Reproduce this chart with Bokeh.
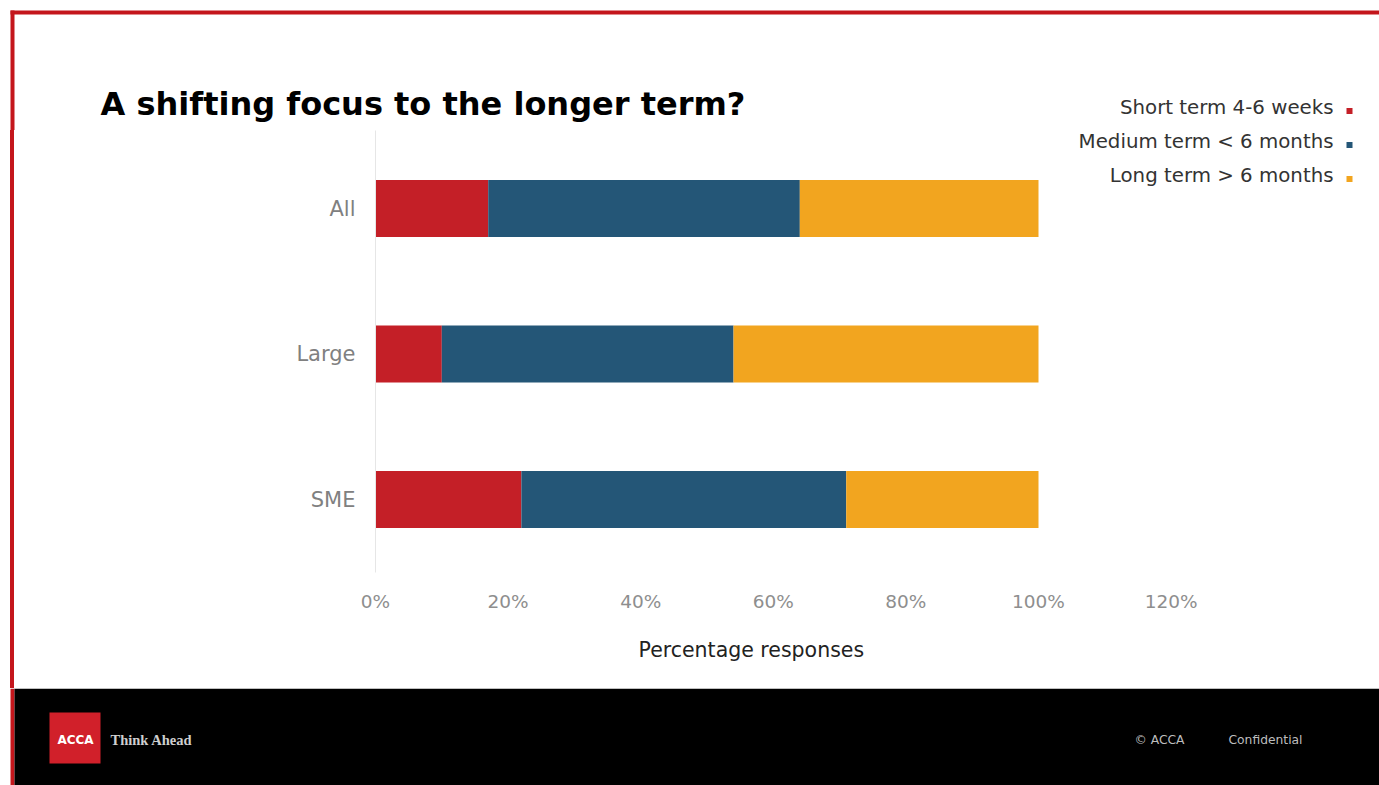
from bokeh.plotting import figure
from bokeh.models import (ColumnDataSource, Range1d, FixedTicker, Spacer, Title,
                          NumeralTickFormatter, Label, BoxAnnotation)
from bokeh.layouts import column, row
from bokeh.core.properties import value
from bokeh.embed import file_html
from bokeh.resources import INLINE

# ---- data ----
categories = ["All", "Large", "SME"]
short_term = [17, 10, 22]
medium_term = [47, 44, 49]
long_term = [36, 46, 29]
series_names = ["Short term 4-6 weeks", "Medium term < 6 months", "Long term > 6 months"]
series_colors = ["#C41F27", "#245677", "#F2A51F"]
x_ticks = [0, 0.2, 0.4, 0.6, 0.8, 1.0, 1.2]

title_text = "A shifting focus to the longer term?"
x_title = "Percentage responses"

RED = "#C4161C"
FONT = "DejaVu Sans"

# ---- page geometry (pixels) ----
PW, PH = 1379, 785
TOP_H = 130          # header strip
FOOT_Y = 688         # footer starts
STRIP_W = 200
X0_PX, X1_PX = 375, 1038   # where 0% and 100% fall
FRAME_BOTTOM = 572
ROW_TOP_PX, ROW_BOT_PX = 208, 499   # centres of first/last category
LEG_X, LEG_Y0, LEG_DY = 1333, 106.5, 34
LEG_FONT = "19.8px"


def canvas(w, h, y_top, x_left=0):
    f = figure(width=w, height=h, output_backend="svg", toolbar_location=None,
               x_range=Range1d(x_left, x_left + w), y_range=Range1d(y_top + h, y_top),
               x_axis_type=None, y_axis_type=None, min_border=0)
    f.outline_line_color = None
    f.grid.visible = False
    f.background_fill_color = "white"
    f.border_fill_color = "white"
    return f


# ---- header ----
top = canvas(PW, TOP_H, 0)
top.quad(left=[10, 10], right=[PW, 14], top=[10, 10], bottom=[14, TOP_H + 1],
         color=RED, line_color=None)
top.text(x=[100], y=[103], text=[title_text], text_font=value(FONT),
         text_font_size="32px", text_font_style="bold", text_color="#000000",
         text_baseline="middle")
top.text(x=[LEG_X], y=[LEG_Y0], text=[series_names[0]], text_font=value(FONT),
         text_font_size=LEG_FONT, text_color="#333333", text_align="right",
         text_baseline="middle")
top.quad(left=[1346], right=[1352], top=[LEG_Y0 + 1], bottom=[LEG_Y0 + 7],
         color=series_colors[0], line_color=None)

# ---- left red line ----
mid_h = FOOT_Y - TOP_H
redline = Spacer(width=4, height=mid_h, styles={"background-color": RED})

# ---- chart ----
chart_w = PW - STRIP_W
frame_left = X0_PX - STRIP_W
frame_h = FRAME_BOTTOM - TOP_H
px_per_unit_x = X1_PX - X0_PX
n = len(categories)
px_per_row = (ROW_BOT_PX - ROW_TOP_PX) / (n - 1)
y_hi = n + (ROW_TOP_PX - TOP_H) / px_per_row
y_lo = 1 - (FRAME_BOTTOM - ROW_BOT_PX) / px_per_row

ypos = [n - i for i in range(n)]
src = ColumnDataSource(dict(
    y=ypos,
    s=[v / 100 for v in short_term],
    m=[v / 100 for v in medium_term],
    l=[v / 100 for v in long_term],
))

p = figure(width=chart_w, height=mid_h, output_backend="svg", toolbar_location=None,
           x_range=Range1d(0, (PW - X0_PX) / px_per_unit_x),
           y_range=Range1d(y_lo, y_hi),
           min_border_left=frame_left, min_border_top=0, min_border_right=0,
           min_border_bottom=mid_h - frame_h)
p.outline_line_color = None
p.xgrid.visible = False
p.ygrid.visible = False
p.background_fill_color = "white"
p.border_fill_color = "white"

p.hbar_stack(["s", "m", "l"], y="y", height=57 / px_per_row, color=series_colors,
             source=src, line_color=None)

xa = p.xaxis[0]
xa.ticker = FixedTicker(ticks=x_ticks)
xa.formatter = NumeralTickFormatter(format="0%")
xa.axis_line_color = None
xa.major_tick_line_color = None
xa.minor_tick_line_color = None
xa.major_tick_out = 0
xa.major_label_standoff = 18
xa.major_label_text_font = FONT
xa.major_label_text_font_size = "18.5px"
xa.major_label_text_color = "#8e8e8e"

# axis title, placed under the bars as in the original
p.add_layout(Title(text=x_title, align="left", offset=638 - X0_PX,
                   text_font=FONT, text_font_size="20.5px", text_font_style="normal",
                   text_color="#222222", standoff=42), "below")

ya = p.yaxis[0]
ya.ticker = FixedTicker(ticks=ypos)
ya.major_label_overrides = {y: c for y, c in zip(ypos, categories)}
ya.axis_line_color = "#e6e6e6"
ya.major_tick_line_color = None
ya.minor_tick_line_color = None
ya.major_tick_out = 0
ya.major_label_standoff = 20
ya.major_label_text_font = FONT
ya.major_label_text_font_size = "21px"
ya.major_label_text_color = "#808080"

# legend rows that fall inside the chart area (screen units relative to frame)
for i in range(1, 3):
    yy = LEG_Y0 + i * LEG_DY
    p.add_layout(Label(x=LEG_X - X0_PX, y=FRAME_BOTTOM - yy, x_units="screen",
                       y_units="screen", text=series_names[i], text_font=FONT,
                       text_font_size=LEG_FONT, text_color="#333333",
                       text_align="right", text_baseline="middle"))
    p.add_layout(BoxAnnotation(left=1346 - X0_PX, right=1352 - X0_PX,
                               top=FRAME_BOTTOM - (yy + 1), bottom=FRAME_BOTTOM - (yy + 7),
                               left_units="screen", right_units="screen",
                               top_units="screen", bottom_units="screen",
                               fill_color=series_colors[i], fill_alpha=1.0,
                               line_color=None))

# ---- footer ----
foot = canvas(PW, PH - FOOT_Y, FOOT_Y)
foot.quad(left=[10, 14, 49], right=[14, PW, 100], top=[FOOT_Y, FOOT_Y, 712],
          bottom=[PH, PH, 763], color=[RED, "#000000", "#D1202A"], line_color=None)
foot.text(x=[75], y=[739], text=["ACCA"], text_font=value(FONT), text_font_size="12px",
          text_font_style="bold", text_color="white", text_align="center",
          text_baseline="middle")
foot.text(x=[110], y=[739], text=["Think Ahead"], text_font=value("Liberation Serif"),
          text_font_size="14.5px", text_font_style="bold", text_color="#cfcfcf",
          text_baseline="middle")
foot.text(x=[1134, 1228], y=[739, 739], text=["\u00a9 ACCA", "Confidential"],
          text_font=value(FONT), text_font_size="12.3px", text_color="#bdbdbd",
          text_baseline="middle")

mid = row(Spacer(width=10, height=mid_h), redline,
          Spacer(width=STRIP_W - 14, height=mid_h), p, spacing=0)
layout = column(top, mid, foot, spacing=0)
open("out.html", "w").write(file_html(layout, INLINE))
